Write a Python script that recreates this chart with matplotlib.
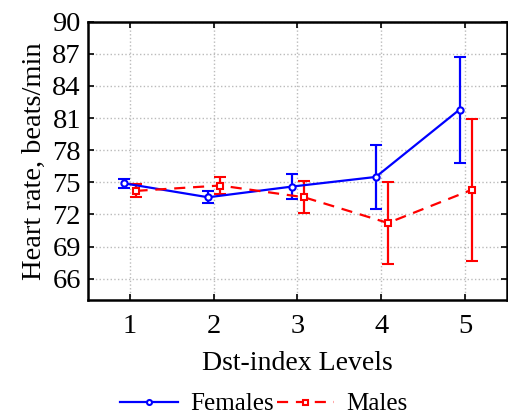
import numpy as np
import matplotlib.pyplot as plt

plt.rcParams['font.family'] = 'Liberation Serif'

# Dst-index levels
levels = [1, 2, 3, 4, 5]

# mean heart rate and error half-width (beats/min)
females = [74.9, 73.6, 74.6, 75.5, 81.8]
females_err = [0.45, 0.58, 1.2, 3.0, 4.95]
males = [74.2, 74.7, 73.6, 71.2, 74.3]
males_err = [0.6, 0.8, 1.5, 3.8, 6.65]

x = np.array(levels, dtype=float)

fig = plt.figure(figsize=(5.08, 4.19), dpi=100)
ax = fig.add_axes([0.173, 0.284, 0.825, 0.664])

f = ax.errorbar(x - 0.065, females, yerr=females_err, color='#0000ff', lw=1.6,
                marker='o', ms=4.5, mfc='white', mew=1.5, capsize=4,
                capthick=1.6, elinewidth=1.6)
m = ax.errorbar(x + 0.08, males, yerr=males_err, color='#ff0000', lw=1.6,
                ls='--', dashes=(5, 3.5), marker='s', ms=4.5, mfc='white',
                mew=1.5, capsize=4, capthick=1.6, elinewidth=1.6)

ax.set_xlim(0.5, 5.5)
ax.set_ylim(64, 90)
ax.set_xticks(levels)
ax.set_yticks(np.arange(66, 91, 3))
ax.tick_params(direction='in', top=True, right=True, labelsize=20.5,
               length=4, width=1.2)
ax.tick_params(axis='x', pad=10)
ax.tick_params(axis='y', pad=5)
ax.grid(True, color='#bbbbbb', ls=':', lw=1)
for s in ax.spines.values():
    s.set_linewidth(1.8)

ax.set_xlabel('Dst-index Levels', fontsize=20, labelpad=9)
ax.set_ylabel('Heart rate, beats/min', fontsize=20.5, labelpad=4)

fig.legend([f[0], m[0]], ['Females', 'Males'], loc='lower center',
           bbox_to_anchor=(0.52, -0.045), ncol=2, frameon=False, fontsize=18,
           handlelength=2.3, handletextpad=0.5, columnspacing=0.1,
           markerscale=0.8)

fig.savefig('out.png', dpi=100)
